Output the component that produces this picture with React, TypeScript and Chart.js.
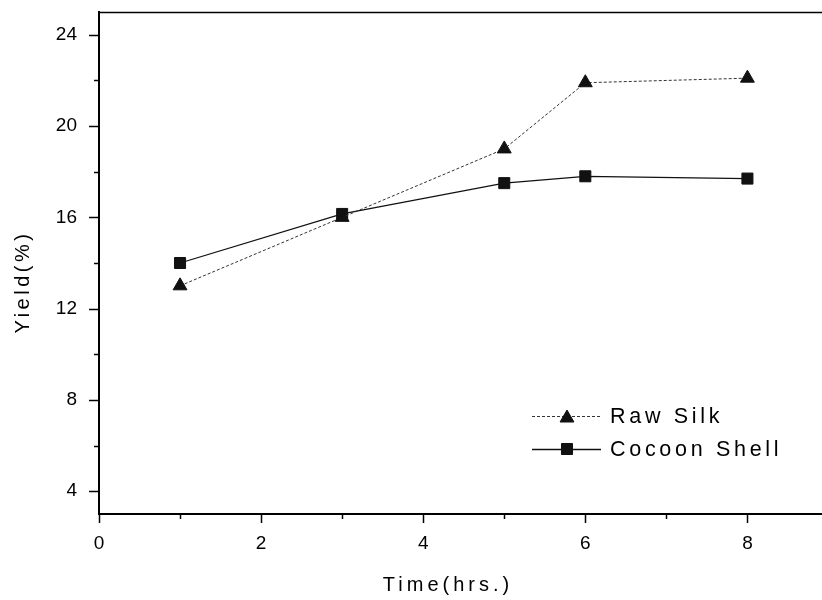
import React, { useEffect, useRef } from "react";
import { Chart, registerables } from "chart.js";

Chart.register(...registerables);

// Reaction time (hrs.) and yields (%)
const times = [1, 3, 5, 6, 8];
const rawSilk = [13.0, 16.0, 19.0, 21.9, 22.1];
const cocoonShell = [14.0, 16.15, 17.5, 17.8, 17.7];

const xTickLabels = [0, 2, 4, 6, 8];
const xMinorTicks = [1, 3, 5, 7];
const yTickLabels = [4, 8, 12, 16, 20, 24];
const yMinorTicks = [6, 10, 14, 18, 22];

const seriesNames = ["Raw Silk", "Cocoon Shell"];
const xTitle = "Time(hrs.)";
const yTitle = "Yield(%)";

const FONT = "'Liberation Sans', Arial, sans-serif";

const framePlugin = {
  id: "frame",
  afterDraw(chart: any) {
    const { ctx, chartArea } = chart;
    const xs = chart.scales.x;
    const ys = chart.scales.y;
    ctx.save();
    ctx.strokeStyle = "#000";

    // top border
    ctx.lineWidth = 1.5;
    ctx.beginPath();
    ctx.moveTo(chartArea.left, chartArea.top + 0.5);
    ctx.lineTo(chartArea.right, chartArea.top + 0.5);
    ctx.stroke();

    // outward tick marks
    ctx.lineWidth = 1.5;
    const drawX = (v: number, len: number) => {
      const px = Math.round(xs.getPixelForValue(v)) + 0.5;
      ctx.beginPath();
      ctx.moveTo(px, chartArea.bottom);
      ctx.lineTo(px, chartArea.bottom + len);
      ctx.stroke();
    };
    const drawY = (v: number, len: number) => {
      const py = Math.round(ys.getPixelForValue(v)) + 0.5;
      ctx.beginPath();
      ctx.moveTo(chartArea.left, py);
      ctx.lineTo(chartArea.left - len, py);
      ctx.stroke();
    };
    xTickLabels.forEach((v) => drawX(v, 9));
    xMinorTicks.forEach((v) => drawX(v, 5));
    yTickLabels.forEach((v) => drawY(v, 10));
    yMinorTicks.forEach((v) => drawY(v, 5));

    // axis titles
    ctx.fillStyle = "#000";
    ctx.font = `20px ${FONT}`;
    ctx.textAlign = "center";
    ctx.textBaseline = "alphabetic";
    (ctx as any).letterSpacing = "4px";
    ctx.fillText(xTitle, 448, 591);
    (ctx as any).letterSpacing = "3.5px";
    ctx.save();
    ctx.translate(29, 282);
    ctx.rotate(-Math.PI / 2);
    ctx.fillText(yTitle, 0, 0);
    ctx.restore();

    // legend
    const rows = [416, 449];
    chart.data.datasets.forEach((ds: any, i: number) => {
      const y = rows[i];
      ctx.save();
      ctx.strokeStyle = ds.borderColor;
      ctx.lineWidth = ds.borderWidth;
      ctx.setLineDash(ds.borderDash || []);
      ctx.beginPath();
      ctx.moveTo(532, y + 0.5);
      ctx.lineTo(601, y + 0.5);
      ctx.stroke();
      ctx.restore();
      ctx.save();
      ctx.fillStyle = ds.pointBackgroundColor;
      ctx.strokeStyle = ds.pointBorderColor;
      ctx.lineWidth = 1;
      const r = ds.pointRadius;
      ctx.beginPath();
      if (ds.pointStyle === "triangle") {
        const cy = y + r / 4;
        ctx.moveTo(567, cy - r);
        ctx.lineTo(567 + r * 0.866, cy + r / 2);
        ctx.lineTo(567 - r * 0.866, cy + r / 2);
        ctx.closePath();
      } else {
        const s = r * Math.SQRT1_2;
        ctx.rect(567 - s, y - s, 2 * s, 2 * s);
      }
      ctx.fill();
      ctx.stroke();
      ctx.restore();
      ctx.fillStyle = "#000";
      ctx.font = `21.5px ${FONT}`;
      ctx.textAlign = "left";
      ctx.textBaseline = "middle";
      (ctx as any).letterSpacing = "3.7px";
      ctx.fillText(ds.label, 610, y + 1);
    });
    ctx.restore();
  },
};

export default function App() {
  const canvasRef = useRef<HTMLCanvasElement | null>(null);

  useEffect(() => {
    const canvas = canvasRef.current;
    if (!canvas) return;
    const chart = new Chart(canvas, {
      type: "line",
      data: {
        datasets: [
          {
            label: seriesNames[0],
            data: times.map((t, i) => ({ x: t, y: rawSilk[i] })),
            borderColor: "#333",
            borderWidth: 1,
            borderDash: [3, 2],
            pointStyle: "triangle",
            pointRadius: 8,
            pointBackgroundColor: "#111",
            pointBorderColor: "#111",
            pointBorderWidth: 1,
          },
          {
            label: seriesNames[1],
            data: times.map((t, i) => ({ x: t, y: cocoonShell[i] })),
            borderColor: "#111",
            borderWidth: 1.3,
            pointStyle: "rect",
            pointRadius: 7.8,
            pointBackgroundColor: "#111",
            pointBorderColor: "#111",
            pointBorderWidth: 1,
          },
        ],
      },
      options: {
        animation: false,
        responsive: false,
        maintainAspectRatio: false,
        layout: { autoPadding: false, padding: { top: 12, left: 0, right: 0, bottom: 0 } },
        plugins: {
          legend: { display: false },
          tooltip: { enabled: false },
        },
        scales: {
          x: {
            type: "linear",
            min: 0,
            max: 8.92,
            afterFit: (s: any) => {
              s.height = 86;
              s.paddingLeft = 0;
              s.paddingRight = 0;
            },
            afterBuildTicks: (s: any) => {
              s.ticks = xTickLabels.map((v) => ({ value: v }));
            },
            ticks: {
              padding: 18,
              color: "#000",
              font: { family: FONT, size: 19 },
              maxRotation: 0,
            },
            grid: { display: false, drawTicks: false, tickLength: 0 },
            border: { display: true, color: "#000", width: 2 },
          },
          y: {
            type: "linear",
            min: 3,
            max: 25,
            afterFit: (s: any) => {
              s.width = 99;
              s.paddingTop = 0;
              s.paddingBottom = 0;
            },
            afterBuildTicks: (s: any) => {
              s.ticks = yTickLabels.map((v) => ({ value: v }));
            },
            ticks: {
              padding: 22,
              color: "#000",
              font: { family: FONT, size: 19 },
            },
            grid: { display: false, drawTicks: false, tickLength: 0 },
            border: { display: true, color: "#000", width: 2 },
          },
        },
      },
      plugins: [framePlugin],
    });
    return () => chart.destroy();
  }, []);

  return (
    <div style={{ position: "fixed", left: 0, top: 0, width: 822, height: 600, background: "#fff" }}>
      <canvas ref={canvasRef} width={822} height={600} style={{ width: 822, height: 600 }} />
    </div>
  );
}
